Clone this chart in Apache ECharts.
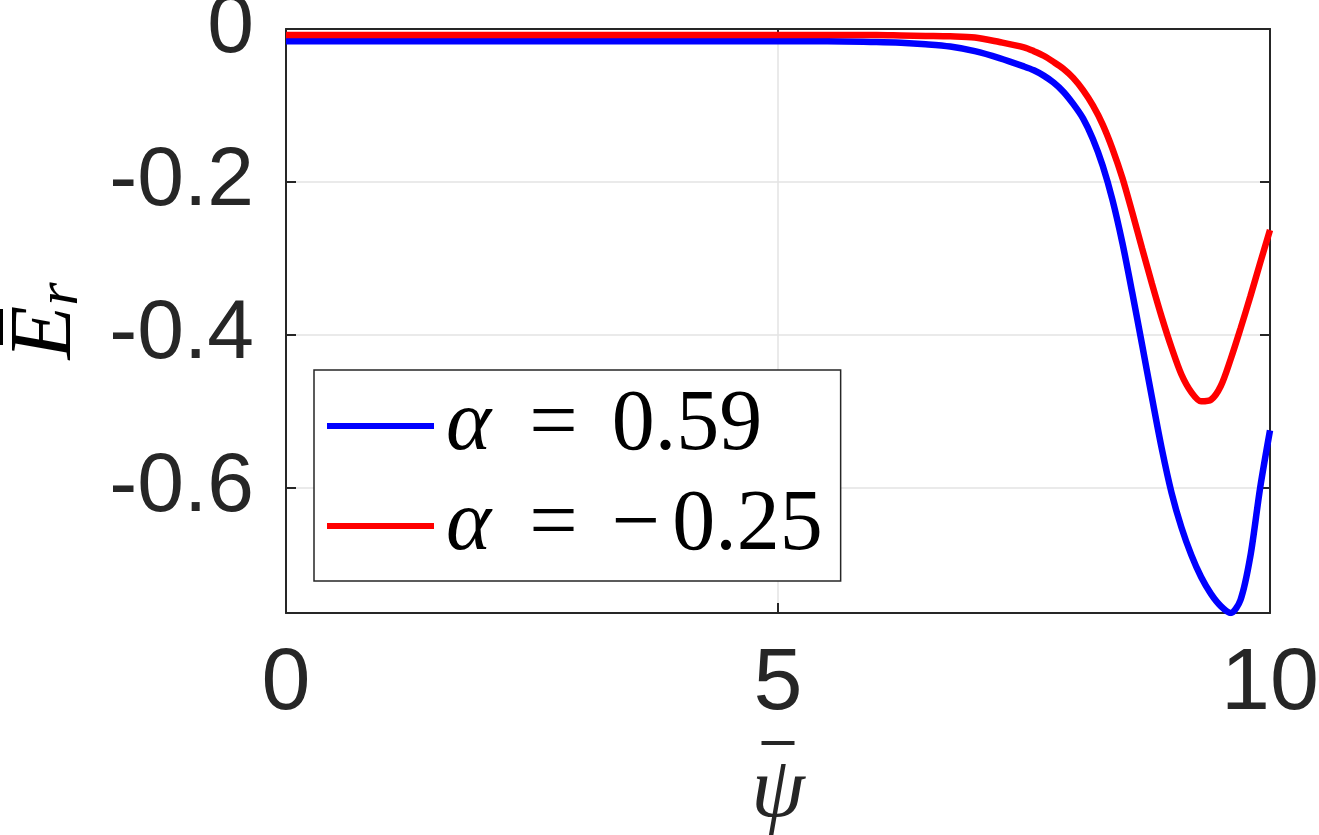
<!DOCTYPE html>
<html>
<head>
<meta charset="utf-8">
<script src="https://cdn.jsdelivr.net/npm/echarts@6/dist/echarts.min.js"></script>
<style>
  html, body { margin: 0; padding: 0; background: #fff; }
  #chart { width: 1319px; height: 835px; }
</style>
</head>
<body>
<div id="chart"></div>
<script>
// psi-bar values (x axis)
const psi = [0, 1, 2, 3, 4, 5, 5.5, 6, 6.25, 6.5, 6.75, 7, 7.25, 7.5,
  7.6, 7.7, 7.8, 7.9, 8, 8.1, 8.2, 8.3, 8.4, 8.5, 8.6, 8.7, 8.8, 8.9, 9,
  9.1, 9.2, 9.3, 9.4, 9.5, 9.6, 9.7, 9.8, 9.9, 10]
// E_r for alpha = 0.59
const erBlue = [-0.016, -0.016, -0.016, -0.016, -0.016, -0.016, -0.016, -0.017, -0.018, -0.02, -0.023, -0.029, -0.038, -0.049,
  -0.054, -0.061, -0.07, -0.082, -0.098, -0.117, -0.144, -0.179, -0.224, -0.28, -0.345, -0.413, -0.482, -0.549, -0.607,
  -0.652, -0.688, -0.717, -0.739, -0.755, -0.764, -0.747, -0.69, -0.6, -0.525]
// E_r for alpha = -0.25
const erRed = [-0.008, -0.008, -0.008, -0.008, -0.008, -0.008, -0.008, -0.008, -0.0085, -0.009, -0.0095, -0.011, -0.017, -0.024,
  -0.029, -0.035, -0.043, -0.052, -0.064, -0.08, -0.1, -0.125, -0.157, -0.195, -0.24, -0.287, -0.333, -0.377, -0.417,
  -0.452, -0.475, -0.487, -0.485, -0.467, -0.432, -0.392, -0.35, -0.306, -0.263]
const yTicks = [0, -0.2, -0.4, -0.6]
const names = ['α = 0.59', 'α = −0.25']

const yMin = -0.764
const axisColor = '#262626'

const chart = echarts.init(document.getElementById('chart'))

const pairs = ys => psi.map((x, i) => [x, ys[i]])

const option = {
  animation: false,
  backgroundColor: '#fff',
  grid: { left: 286, right: 49, top: 29, bottom: 222, outerBoundsMode: 'none', containLabel: false },
  legend: {
    orient: 'vertical',
    left: 314,
    top: 370,
    data: names,
    icon: 'rect',
    itemWidth: 107,
    itemHeight: 6,
    itemGap: 14,
    padding: [13, 18, 12, 13],
    borderColor: axisColor,
    borderWidth: 1.5,
    backgroundColor: '#fff',
    formatter: function(name) {
      // "α = 0.59" -> alpha, equals sign, value
      const value = name.split('= ')[1]
      if (value.charAt(0) === '−') {
        return '{a|α}{eq|=}{m|−}{b|' + value.slice(1) + '}'
      }
      return '{a|α}{eq|=}{b|' + value + '}'
    },
    textStyle: {
      padding: [0, 0, 0, 7],
      rich: {
        a: { fontFamily: 'Liberation Serif', fontStyle: 'italic', fontSize: 86, lineHeight: 90, color: '#000' },
        eq: { fontFamily: 'Liberation Serif', fontSize: 86, lineHeight: 90, color: '#000', padding: [0, 34, 0, 38] },
        m: { fontFamily: 'Liberation Serif', fontSize: 86, lineHeight: 90, color: '#000', padding: [0, 12, 0, 0] },
        b: { fontFamily: 'Liberation Serif', fontSize: 86, lineHeight: 90, color: '#000' }
      }
    }
  },
  xAxis: [
    {
      type: 'value',
      min: 0,
      max: 10,
      interval: 5,
      name: '{bar| }\n{p|ψ}',
      nameLocation: 'middle',
      nameGap: 123,
      nameTextStyle: {
        rich: {
          bar: { width: 33, height: 4, backgroundColor: axisColor, fontSize: 4, lineHeight: 14 },
          p: { fontFamily: 'Liberation Serif', fontStyle: 'italic', fontSize: 86, lineHeight: 86, color: axisColor }
        }
      },
      axisLine: { show: true, onZero: false, lineStyle: { color: axisColor, width: 2 } },
      axisTick: { show: true, inside: true, length: 10, lineStyle: { color: axisColor, width: 2 } },
      axisLabel: { fontFamily: 'Liberation Sans', fontSize: 88, color: axisColor, margin: 28 },
      splitLine: { show: true, lineStyle: { color: '#e3e3e3', width: 1.5 } }
    },
    {
      type: 'value',
      position: 'top',
      min: 0,
      max: 10,
      interval: 5,
      axisLine: { show: true, onZero: false, lineStyle: { color: axisColor, width: 2 } },
      axisTick: { show: true, inside: true, length: 10, lineStyle: { color: axisColor, width: 2 } },
      axisLabel: { show: false },
      splitLine: { show: false }
    }
  ],
  yAxis: [
    {
      type: 'value',
      min: yMin,
      max: 0,
      // bar over E on the first line, E with subscript r on the second
      name: '{bar| }{sp| }\n{e|E}{r|r}',
      nameLocation: 'middle',
      nameGap: 166,
      nameTextStyle: {
        rich: {
          bar: { width: 36, height: 4, backgroundColor: '#000', fontSize: 4, lineHeight: 4 },
          sp: { width: 12, height: 4, fontSize: 4, lineHeight: 4 },
          e: { fontFamily: 'Liberation Serif', fontStyle: 'italic', fontSize: 88, lineHeight: 76, verticalAlign: 'top', color: '#000' },
          r: { fontFamily: 'Liberation Serif', fontStyle: 'italic', fontSize: 60, lineHeight: 117, verticalAlign: 'middle', color: '#000' }
        }
      },
      axisLine: { show: true, onZero: false, lineStyle: { color: axisColor, width: 2 } },
      axisTick: { show: true, inside: true, length: 10, customValues: yTicks, lineStyle: { color: axisColor, width: 2 } },
      axisLabel: { fontFamily: 'Liberation Sans', fontSize: 84, color: axisColor, margin: 32, customValues: yTicks },
      splitLine: { show: true, lineStyle: { color: '#e3e3e3', width: 1.5 } }
    },
    {
      type: 'value',
      position: 'right',
      min: yMin,
      max: 0,
      axisLine: { show: true, onZero: false, lineStyle: { color: axisColor, width: 2 } },
      axisTick: { show: true, inside: true, length: 10, customValues: yTicks, lineStyle: { color: axisColor, width: 2 } },
      axisLabel: { show: false },
      splitLine: { show: false }
    }
  ],
  series: [
    {
      name: names[0],
      type: 'line',
      data: pairs(erBlue),
      smooth: 0.3,
      showSymbol: false,
      color: '#0000ff',
      lineStyle: { width: 6.5 }
    },
    {
      name: names[1],
      type: 'line',
      data: pairs(erRed),
      smooth: 0.3,
      showSymbol: false,
      color: '#ff0000',
      lineStyle: { width: 6.5 }
    }
  ]
}
chart.setOption(option)
</script>
</body>
</html>
